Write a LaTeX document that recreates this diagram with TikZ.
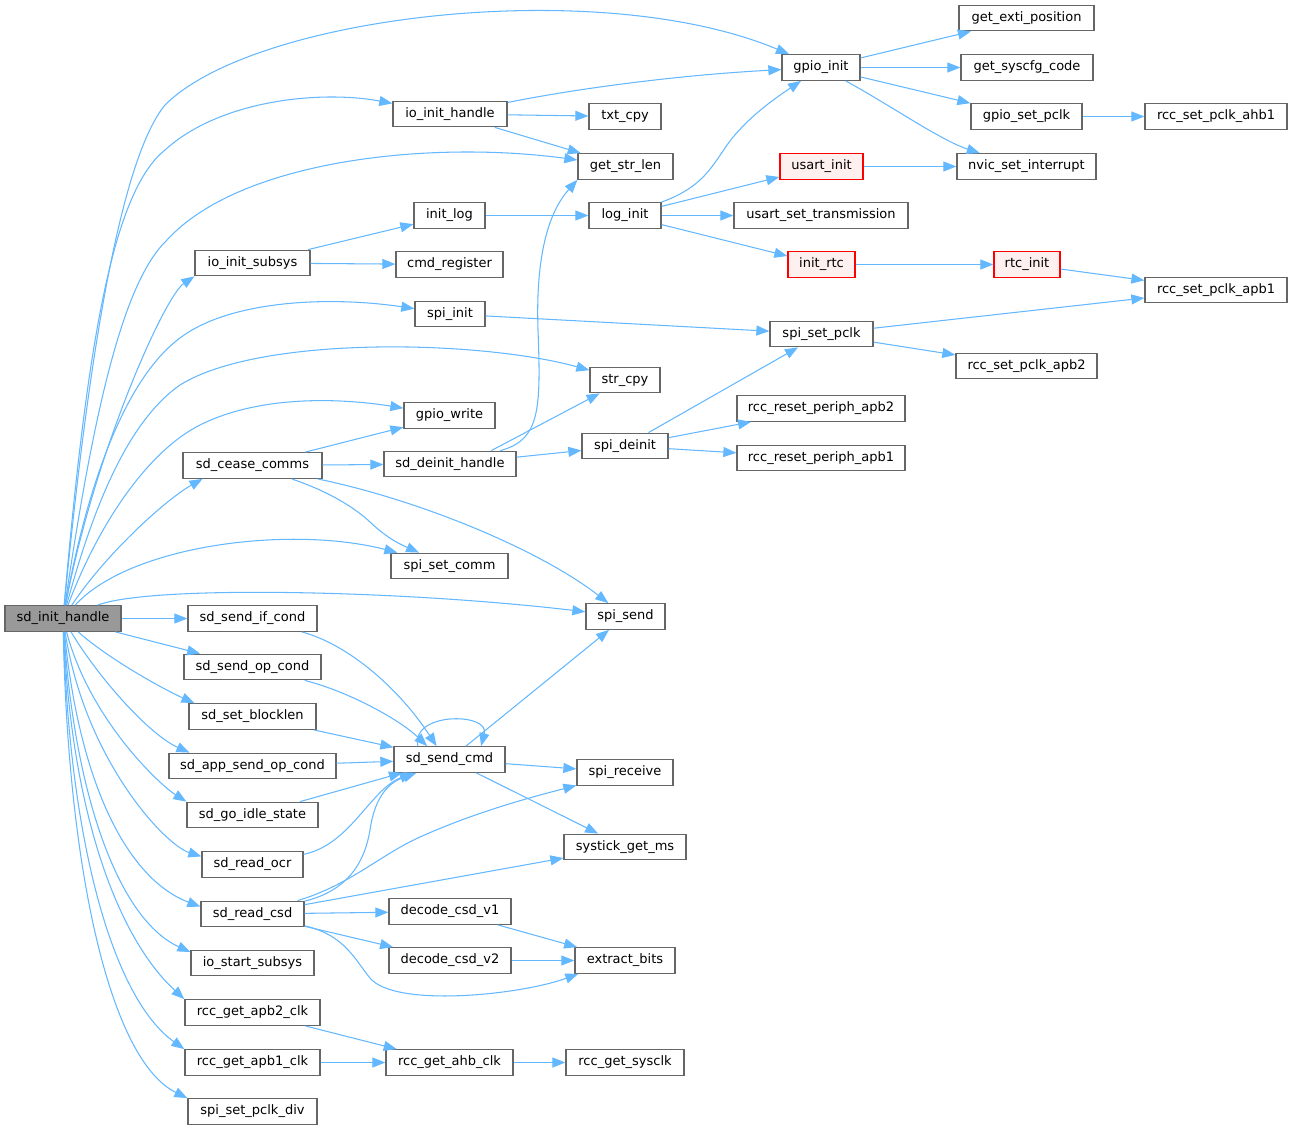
\documentclass[tikz,border=0pt]{standalone}
\usepackage{fontspec}
\setmainfont{DejaVu Sans}
\usetikzlibrary{arrows.meta}
\definecolor{edgec}{HTML}{63B8FF}
\definecolor{nodeb}{HTML}{666666}
\definecolor{rootf}{HTML}{999999}
\definecolor{redb}{HTML}{FF0000}
\definecolor{redf}{HTML}{FFF0F0}
\begin{document}
\begin{tikzpicture}[x=1pt,y=-1pt,
  fn/.style={draw=nodeb, fill=white, line width=1.3pt, minimum height=25.5pt, inner sep=0pt,
    font=\fontsize{13}{15}\selectfont, text height=9.9pt, text depth=3pt},
  rootfn/.style={fn, fill=rootf},
  redfn/.style={fn, draw=redb, fill=redf},
  edge/.style={draw=edgec, line width=1.05pt, -{Triangle[length=13pt,width=10pt]}}]
\useasboundingbox[fill=white] (0,0) rectangle (1292,1129);
% nodes
\node[rootfn, minimum width=116pt] (sdinit) at (63,618.5) {sd\_init\_handle};
\node[fn, minimum width=78pt] (gpioinit) at (821,67.5) {gpio\_init};
\node[fn, minimum width=135pt] (getexti) at (1026.5,18) {get\_exti\_position};
\node[fn, minimum width=132pt] (getsyscfg) at (1027,67.5) {get\_syscfg\_code};
\node[fn, minimum width=111pt] (gpiosetpclk) at (1026.5,116.5) {gpio\_set\_pclk};
\node[fn, minimum width=142pt] (rccahb1) at (1216,116.5) {rcc\_set\_pclk\_ahb1};
\node[fn, minimum width=139pt] (nvic) at (1026.5,166.5) {nvic\_set\_interrupt};
\node[redfn, minimum width=83pt] (usartinit) at (821.5,166.5) {usart\_init};
\node[fn, minimum width=114pt] (ioinithandle) at (450,114) {io\_init\_handle};
\node[fn, minimum width=72pt] (txtcpy) at (625,116.5) {txt\_cpy};
\node[fn, minimum width=95pt] (getstrlen) at (625.5,166.5) {get\_str\_len};
\node[fn, minimum width=71pt] (initlog) at (449.5,215.5) {init\_log};
\node[fn, minimum width=72pt] (loginit) at (625,215.5) {log\_init};
\node[fn, minimum width=174pt] (usartset) at (821,215.5) {usart\_set\_transmission};
\node[fn, minimum width=115pt] (ioinitsubsys) at (252.5,263) {io\_init\_subsys};
\node[fn, minimum width=107pt] (cmdregister) at (449.5,264.5) {cmd\_register};
\node[redfn, minimum width=67pt] (initrtc) at (821.5,264.5) {init\_rtc};
\node[redfn, minimum width=66pt] (rtcinit) at (1027,264.5) {rtc\_init};
\node[fn, minimum width=142pt] (rccapb1) at (1216,290) {rcc\_set\_pclk\_apb1};
\node[fn, minimum width=70pt] (spiinit) at (450,314) {spi\_init};
\node[fn, minimum width=103pt] (spisetpclk) at (821.5,334) {spi\_set\_pclk};
\node[fn, minimum width=141pt] (rccapb2) at (1026.5,366) {rcc\_set\_pclk\_apb2};
\node[fn, minimum width=70pt] (strcpy) at (625,380) {str\_cpy};
\node[fn, minimum width=168pt] (rccresetapb2) at (821,408.5) {rcc\_reset\_periph\_apb2};
\node[fn, minimum width=91pt] (gpiowrite) at (449.5,415.5) {gpio\_write};
\node[fn, minimum width=139pt] (sdcease) at (252.5,465.5) {sd\_cease\_comms};
\node[fn, minimum width=132pt] (sddeinit) at (450,464) {sd\_deinit\_handle};
\node[fn, minimum width=86pt] (spideinit) at (625,446) {spi\_deinit};
\node[fn, minimum width=168pt] (rccresetapb1) at (821,458) {rcc\_reset\_periph\_apb1};
\node[fn, minimum width=117pt] (spisetcomm) at (449.5,566) {spi\_set\_comm};
\node[fn, minimum width=79pt] (spisend) at (625.5,616.5) {spi\_send};
\node[fn, minimum width=129pt] (sdsendif) at (252.5,618.5) {sd\_send\_if\_cond};
\node[fn, minimum width=137pt] (sdsendop) at (252.5,667) {sd\_send\_op\_cond};
\node[fn, minimum width=127pt] (sdsetblock) at (252.5,716.5) {sd\_set\_blocklen};
\node[fn, minimum width=167pt] (sdapp) at (252.5,766) {sd\_app\_send\_op\_cond};
\node[fn, minimum width=111pt] (sdsendcmd) at (449.5,759.5) {sd\_send\_cmd};
\node[fn, minimum width=96pt] (spireceive) at (625,772.5) {spi\_receive};
\node[fn, minimum width=131pt] (sdgoidle) at (252.5,815) {sd\_go\_idle\_state};
\node[fn, minimum width=122pt] (systick) at (625,847) {systick\_get\_ms};
\node[fn, minimum width=101pt] (sdreadocr) at (252.5,864.5) {sd\_read\_ocr};
\node[fn, minimum width=103pt] (sdreadcsd) at (252.5,914) {sd\_read\_csd};
\node[fn, minimum width=122pt] (decodev1) at (450,911.5) {decode\_csd\_v1};
\node[fn, minimum width=122pt] (decodev2) at (450,960.5) {decode\_csd\_v2};
\node[fn, minimum width=100pt] (extractbits) at (625,960.5) {extract\_bits};
\node[fn, minimum width=123pt] (iostart) at (252.5,963) {io\_start\_subsys};
\node[fn, minimum width=135pt] (rccapb2clk) at (252.5,1012.5) {rcc\_get\_apb2\_clk};
\node[fn, minimum width=135pt] (rccapb1clk) at (252.5,1062.5) {rcc\_get\_apb1\_clk};
\node[fn, minimum width=127pt] (rccahbclk) at (449.5,1062.5) {rcc\_get\_ahb\_clk};
\node[fn, minimum width=118pt] (rccsysclk) at (625,1062.5) {rcc\_get\_sysclk};
\node[fn, minimum width=129pt] (spisetpclkdiv) at (252.5,1111.5) {spi\_set\_pclk\_div};
% edges from sd_init_handle
\draw[edge] (sdinit) .. controls (88,360) and (120,160) .. (165,105) .. controls (255,15) and (600,-25) .. (gpioinit);
\draw[edge] (sdinit) .. controls (88,330) and (115,190) .. (165,150) .. controls (220,100) and (320,90) .. (ioinithandle);
\draw[edge] (sdinit) .. controls (95,400) and (125,280) .. (167,240) .. controls (240,160) and (430,140) .. (getstrlen);
\draw[edge] (sdinit) .. controls (95,450) and (165,296) .. (ioinitsubsys.south west);
\draw[edge] (sdinit) .. controls (90,470) and (130,375) .. (180,338) .. controls (230,300) and (330,296) .. (spiinit);
\draw[edge] (sdinit) .. controls (95,500) and (130,420) .. (180,385) .. controls (260,335) and (480,340) .. (strcpy);
\draw[edge] (sdinit) .. controls (100,520) and (150,450) .. (200,425) .. controls (260,395) and (340,398) .. (gpiowrite);
\draw[edge] (sdinit) .. controls (105,555) and (165,500) .. (sdcease.195);
\draw[edge] (sdinit) .. controls (130,545) and (290,525) .. (spisetcomm);
\draw[edge] (sdinit) .. controls (150,585) and (400,590) .. (spisend);
\draw[edge] (sdinit) -- (sdsendif);
\draw[edge] (sdinit) -- (sdsendop);
\draw[edge] (sdinit) .. controls (110,660) and (165,690) .. (sdsetblock.167);
\draw[edge] (sdinit) .. controls (100,680) and (150,735) .. (sdapp.168);
\draw[edge] (sdinit) .. controls (90,720) and (160,785) .. (sdgoidle.north west);
\draw[edge] (sdinit) .. controls (85,760) and (165,845) .. (sdreadocr.171);
\draw[edge] (sdinit) .. controls (80,790) and (130,880) .. (sdreadcsd.172);
\draw[edge] (sdinit) .. controls (75,800) and (120,920) .. (iostart.170);
\draw[edge] (sdinit) .. controls (72,820) and (120,940) .. (rccapb2clk.north west);
\draw[edge] (sdinit) .. controls (70,850) and (115,1000) .. (rccapb1clk.north west);
\draw[edge] (sdinit) .. controls (68,870) and (110,1060) .. (spisetpclkdiv.north west);
% other edges
\draw[edge] (ioinithandle) .. controls (580,88) and (680,75) .. (gpioinit);
\draw[edge] (ioinithandle) -- (txtcpy);
\draw[edge] (ioinithandle) -- (getstrlen);
\draw[edge] (gpioinit) -- (getexti);
\draw[edge] (gpioinit) -- (getsyscfg);
\draw[edge] (gpioinit) -- (gpiosetpclk);
\draw[edge] (gpioinit) .. controls (890,105) and (940,140) .. (nvic.164);
\draw[edge] (gpiosetpclk) -- (rccahb1);
\draw[edge] (usartinit) -- (nvic);
\draw[edge] (ioinitsubsys) -- (initlog);
\draw[edge] (ioinitsubsys) -- (cmdregister);
\draw[edge] (initlog) -- (loginit);
\draw[edge] (loginit) .. controls (700,188) and (710,170) .. (725,148) .. controls (745,118) and (780,95) .. (gpioinit);
\draw[edge] (loginit) -- (usartinit);
\draw[edge] (loginit) -- (usartset);
\draw[edge] (loginit) -- (initrtc);
\draw[edge] (initrtc) -- (rtcinit);
\draw[edge] (rtcinit) -- (rccapb1);
\draw[edge] (spiinit) -- (spisetpclk);
\draw[edge] (spisetpclk) -- (rccapb1);
\draw[edge] (spisetpclk) -- (rccapb2);
\draw[edge] (sdcease) -- (gpiowrite);
\draw[edge] (sdcease) -- (sddeinit);
\draw[edge] (sdcease) .. controls (330,492) and (355,508) .. (370,522) .. controls (385,536) and (395,542) .. (spisetcomm);
\draw[edge] (sdcease) .. controls (420,500) and (540,550) .. (spisend);
\draw[edge] (sddeinit) .. controls (540,440) and (541,410) .. (538,330) .. controls (535,240) and (555,205) .. (getstrlen.south west);
\draw[edge] (sddeinit.18) -- (strcpy);
\draw[edge] (sddeinit) -- (spideinit);
\draw[edge] (spideinit) -- (spisetpclk);
\draw[edge] (spideinit) -- (rccresetapb2);
\draw[edge] (spideinit) -- (rccresetapb1);
\draw[edge] (sdsendif) .. controls (350,645) and (400,690) .. (sdsendcmd.134);
\draw[edge] (sdsendop) .. controls (350,692) and (400,720) .. (sdsendcmd.149);
\draw[edge] (sdsetblock) -- (sdsendcmd);
\draw[edge] (sdapp) -- (sdsendcmd);
\draw[edge] (sdgoidle) -- (sdsendcmd);
\draw[edge] (sdreadocr) .. controls (350,845) and (370,790) .. (sdsendcmd.-160);
\draw[edge] (sdreadcsd) .. controls (350,890) and (365,860) .. (370,830) .. controls (375,795) and (390,782) .. (sdsendcmd.-158);
\draw[edge] (sdsendcmd.157) .. controls (410,712) and (490,712) .. (sdsendcmd.23);
\draw[edge] (sdsendcmd) -- (spisend);
\draw[edge] (sdsendcmd) -- (spireceive);
\draw[edge] (sdsendcmd) -- (systick);
\draw[edge] (sdreadcsd) .. controls (350,885) and (380,855) .. (420,837) .. controls (480,810) and (540,795) .. (spireceive);
\draw[edge] (sdreadcsd) -- (systick);
\draw[edge] (sdreadcsd) -- (decodev1);
\draw[edge] (sdreadcsd) -- (decodev2);
\draw[edge] (sdreadcsd) .. controls (345,935) and (355,960) .. (370,978) .. controls (395,1008) and (520,995) .. (extractbits.-164);
\draw[edge] (decodev1) -- (extractbits);
\draw[edge] (decodev2) -- (extractbits);
\draw[edge] (rccapb2clk) -- (rccahbclk);
\draw[edge] (rccapb1clk) -- (rccahbclk);
\draw[edge] (rccahbclk) -- (rccsysclk);
\end{tikzpicture}
\end{document}
